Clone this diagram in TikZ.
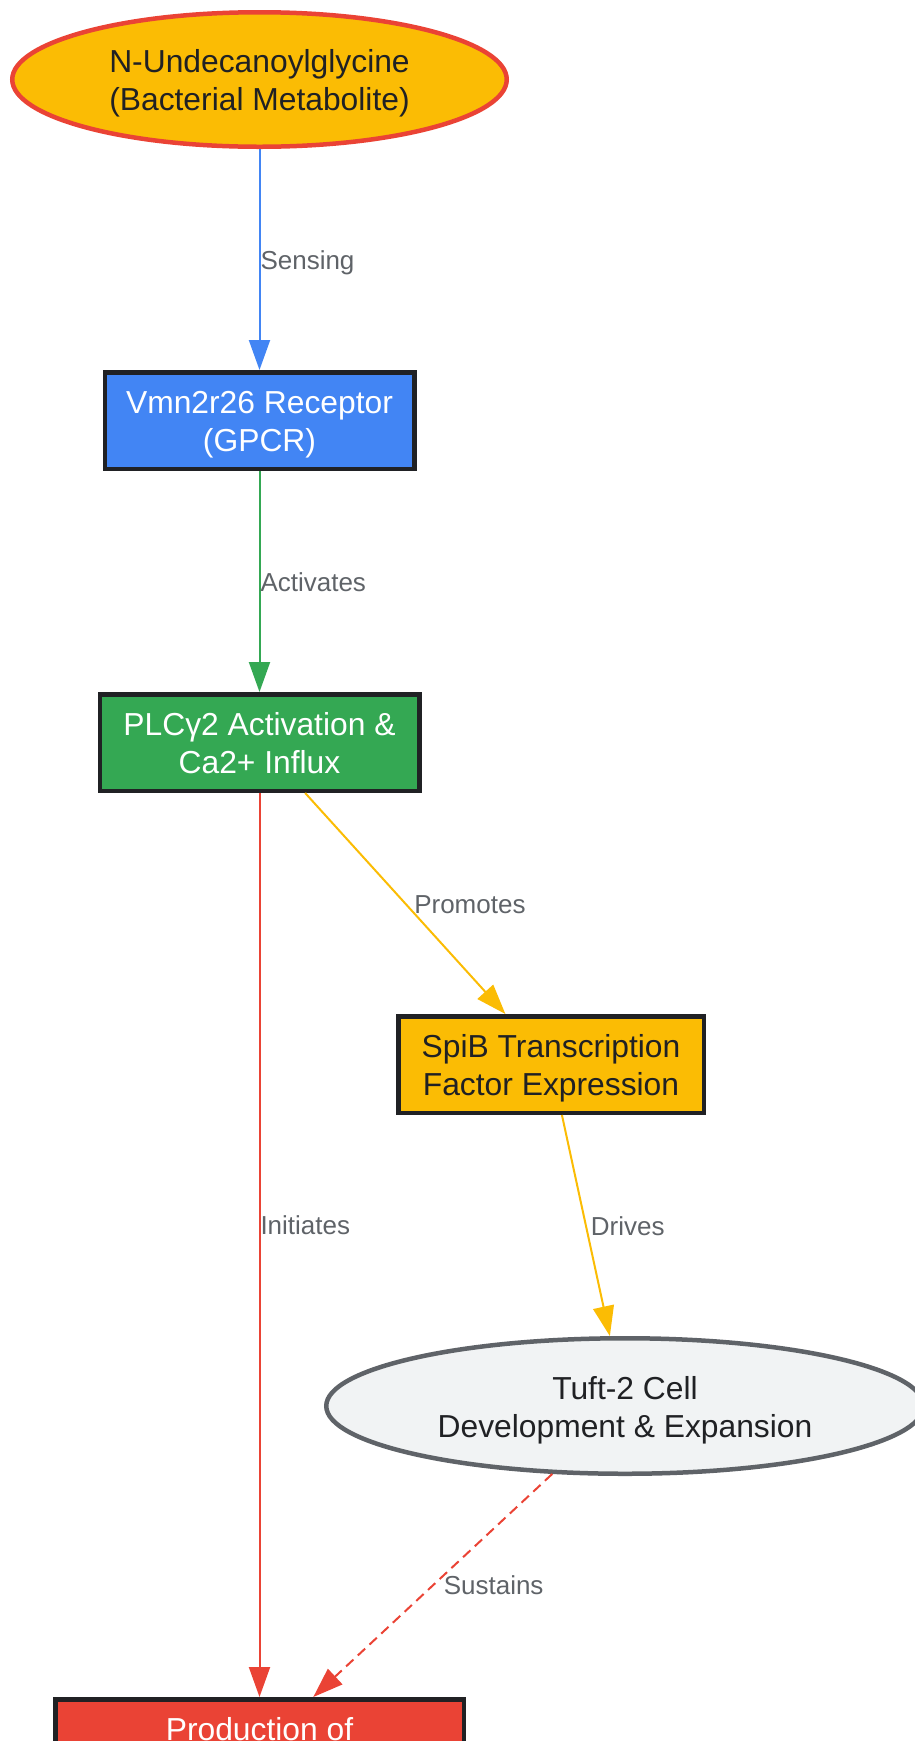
\documentclass[tikz,border=0pt]{standalone}
\usepackage{fontspec}
\setmainfont{Liberation Sans}
\usetikzlibrary{arrows.meta,positioning,shapes.geometric}

\definecolor{gblue}{HTML}{4285F4}
\definecolor{ggreen}{HTML}{34A853}
\definecolor{gyellow}{HTML}{FBBC04}
\definecolor{gred}{HTML}{EA4335}
\definecolor{ggray}{HTML}{5F6368}
\definecolor{glight}{HTML}{F1F3F4}
\definecolor{gdark}{HTML}{202124}

\begin{document}
\begin{tikzpicture}[x=1pt,y=-1pt,node distance=221pt,
    box/.style={rectangle,draw=gdark,line width=4.5pt,minimum height=96.5pt,inner sep=0pt,align=center,text height=69pt,text depth=7pt,font=\fontsize{31.8pt}{38pt}\selectfont},
    blob/.style={ellipse,line width=4.5pt,inner sep=0pt,align=center,text=gdark,text height=69pt,text depth=7pt,font=\fontsize{31.8pt}{38pt}\selectfont},
    lbl/.style={anchor=west,inner sep=0pt,text=ggray,text height=19pt,text depth=0pt,font=\fontsize{26pt}{30pt}\selectfont},
    link/.style={line width=2pt,-{Triangle[length=30pt,width=21pt]}}]
    \useasboundingbox (0,0) rectangle (915,1741);

    \node[blob,draw=gred,fill=gyellow,minimum width=494.5pt,minimum height=134.5pt] (src) at (259.5,79.5) {N-Undecanoylglycine\\(Bacterial Metabolite)};
    \node[box,fill=gblue,text=white,minimum width=309.5pt]  (rcp)  [below=of src] {Vmn2r26 Receptor\\(GPCR)};
    \node[box,fill=ggreen,text=white,minimum width=319.5pt] (plc)  [below=of rcp] {PLCγ2 Activation \&\\Ca2+ Influx};
    \node[box,fill=gyellow,text=gdark,minimum width=305.5pt] (spib) [below=of plc,xshift=291.5pt] {SpiB Transcription\\Factor Expression};
    \node[blob,draw=ggray,fill=glight,minimum width=597.5pt,minimum height=135.5pt] (tuft) [below=of spib,xshift=74pt] {Tuft-2 Cell\\Development \& Expansion};
    \node[box,fill=gred,text=white,minimum width=408.5pt]   (prod) [below=of tuft,xshift=-365.5pt] {Production of\\\mbox{}};

    \path (src)  edge[link,gblue]  node[lbl] {Sensing} (rcp);
    \path (rcp)  edge[link,ggreen] node[lbl] {Activates} (plc);
    \path (plc)  edge[link,gyellow] node[lbl,xshift=8pt] {Promotes} (spib);
    \path (plc)  edge[link,gred]   node[lbl,pos=.478] {Initiates} (prod);
    \path (spib) edge[link,gyellow] node[lbl,xshift=4pt] {Drives} (tuft);
    \path (tuft) edge[link,gred,dash pattern=on 10pt off 6pt] node[lbl,xshift=10pt] {Sustains} (prod);
\end{tikzpicture}
\end{document}
